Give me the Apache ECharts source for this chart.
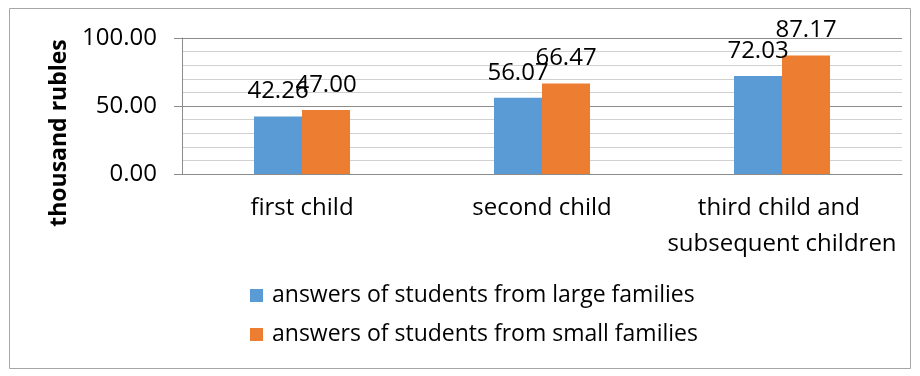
<!DOCTYPE html>
<html>
<head>
<meta charset="utf-8">
<script src="https://cdn.jsdelivr.net/npm/echarts@6/dist/echarts.min.js"></script>
<style>
  html, body { margin: 0; padding: 0; background: #fff; }
  #chart { width: 920px; height: 376px; }
</style>
</head>
<body>
<div id="chart"></div>
<script>
// Payment amounts by birth order, thousand rubles
const categories = ['first child', 'second child', 'third child and subsequent children'];
const seriesNames = [
  'answers of students from large families',
  'answers of students from small families'
];
const largeFamilies = [42.26, 56.07, 72.03];
const smallFamilies = [47.00, 66.47, 87.17];
const yTicks = { min: 0, max: 100, step: 50 };
const yTitle = 'thousand rubles';

const FONT = 'Open Sans';
const chart = echarts.init(document.getElementById('chart'), null, { renderer: 'canvas' });

const barLabel = {
  show: true,
  position: 'top',
  distance: 13,
  fontFamily: FONT,
  fontSize: 24,
  color: '#000',
  formatter: p => p.value.toFixed(2)
};

chart.setOption({
  animation: false,
  backgroundColor: '#fff',
  textStyle: { fontFamily: FONT },
  grid: { left: 182, right: 18, top: 38, bottom: 202, containLabel: false },
  legend: {
    orient: 'vertical',
    left: 245,
    top: 279,
    itemWidth: 13,
    itemHeight: 13,
    itemGap: 16,
    icon: 'rect',
    textStyle: { fontFamily: FONT, fontSize: 23, color: '#000', padding: [0, 0, 0, 4] },
    data: seriesNames
  },
  xAxis: {
    type: 'category',
    data: categories,
    axisLine: { lineStyle: { color: '#8c8c8c', width: 1 } },
    axisTick: { show: false },
    axisLabel: {
      margin: 16,
      fontFamily: FONT,
      fontSize: 24,
      color: '#000',
      lineHeight: 36,
      width: 230,
      overflow: 'break',
      interval: 0
    }
  },
  yAxis: {
    type: 'value',
    min: yTicks.min,
    max: yTicks.max,
    interval: yTicks.step,
    axisLine: { show: true, lineStyle: { color: '#8c8c8c', width: 1 } },
    axisTick: { show: true, length: 8, lineStyle: { color: '#8c8c8c' } },
    axisLabel: {
      margin: 25,
      fontFamily: FONT,
      fontSize: 24,
      color: '#000',
      formatter: v => v.toFixed(2)
    },
    splitLine: { show: true, lineStyle: { color: '#8c8c8c', width: 1 } },
    minorTick: { show: false, splitNumber: 5 },
    minorSplitLine: { show: true, lineStyle: { color: '#d0d0d0', width: 1 } }
  },
  series: [
    {
      name: seriesNames[0],
      type: 'bar',
      data: largeFamilies,
      barWidth: 48,
      barGap: '0%',
      itemStyle: { color: '#5b9bd5' },
      label: barLabel
    },
    {
      name: seriesNames[1],
      type: 'bar',
      data: smallFamilies,
      barWidth: 48,
      barGap: '0%',
      itemStyle: { color: '#ed7d31' },
      label: barLabel
    }
  ],
  graphic: [
    {
      type: 'rect',
      silent: true,
      shape: { x: 9.5, y: 8.5, width: 901, height: 360 },
      style: { fill: 'none', stroke: '#a6a6a6', lineWidth: 1 }
    },
    {
      type: 'text',
      x: 59,
      y: 133,
      rotation: Math.PI / 2,
      style: {
        text: yTitle,
        fontFamily: FONT,
        fontSize: 23,
        fontWeight: 'bold',
        fill: '#000',
        align: 'center',
        verticalAlign: 'middle'
      }
    }
  ]
});
</script>
</body>
</html>
